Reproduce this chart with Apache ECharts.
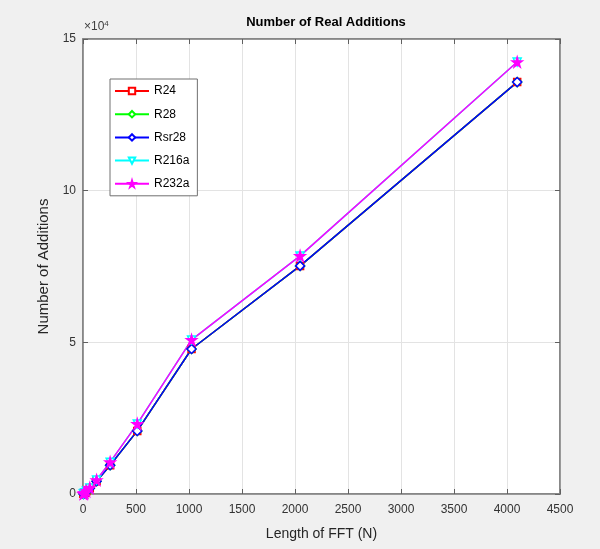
<!DOCTYPE html>
<html lang="en">
<head>
    <meta charset="UTF-8" />
    <title>Number of Real Additions</title>
    <script src="https://cdn.jsdelivr.net/npm/echarts@6/dist/echarts.min.js"></script>
    <style>
        html, body { margin: 0; padding: 0; background: #f0f0f0; }
    </style>
</head>
<body>
    <div id="chart" style="width:600px;height:549px;"></div>
    <script type="text/javascript">
        // FFT lengths (x values)
        var fftN = [4, 8, 16, 32, 64, 128, 256, 512, 1024, 2048, 4096];
        // number of real additions
        var r24 = [50, 150, 380, 900, 1900, 4200, 9500, 20800, 47800, 75200, 135800];
        var r28 = [50, 150, 380, 900, 1900, 4200, 9500, 20800, 47800, 75200, 135800];
        var rsr28 = [50, 150, 380, 900, 1900, 4200, 9500, 20800, 47800, 75200, 135800];
        var r216a = [50, 160, 400, 950, 2000, 4600, 10500, 23100, 50800, 78500, 142400];
        var r232a = [50, 160, 400, 950, 2000, 4600, 10500, 23100, 50800, 78500, 142400];
        var xTicks = [0, 500, 1000, 1500, 2000, 2500, 3000, 3500, 4000, 4500];
        var yTicks = [0, 5, 10, 15]; // x 10^4

        var starPath = 'path://M50,0 L61,35 L98,35 L68,57 L79,91 L50,70 L21,91 L32,57 L2,35 L39,35 Z';

        function pairs(ys) {
            return fftN.map(function (n, i) { return [n, ys[i]]; });
        }

        function lineSeries(name, ys, col, sym, size, filled, rot) {
            return {
                name: name, type: 'line', data: pairs(ys),
                symbol: sym, symbolSize: size, symbolRotate: rot || 0,
                lineStyle: { width: 1.5, color: col },
                itemStyle: { color: filled ? col : '#ffffff', borderColor: col, borderWidth: 1.5 }
            };
        }

        // matlab style ticks, pointing into the box
        function ticks() {
            return { show: true, inside: true, length: 5, lineStyle: { color: '#606060', width: 1 } };
        }
        function boxLine() {
            return { show: true, onZero: false, lineStyle: { color: '#808080', width: 1.5 } };
        }

        var chart = echarts.init(document.getElementById('chart'));
        var tickFont = { color: '#333333', fontSize: 12, fontFamily: 'Liberation Sans' };

        var option = {
            backgroundColor: '#f0f0f0',
            animation: false,
            title: {
                text: 'Number of Real Additions',
                left: 321,
                top: 11,
                textAlign: 'center',
                textStyle: { fontSize: 13, fontWeight: 'bold', color: '#000', fontFamily: 'Liberation Sans' }
            },
            grid: {
                left: 83, right: 40, top: 39, bottom: 55,
                show: true,
                backgroundColor: '#ffffff',
                borderColor: '#808080',
                borderWidth: 1.5
            },
            legend: {
                orient: 'vertical',
                left: 110,
                top: 79,
                itemWidth: 34,
                itemHeight: 8,
                itemGap: 11.2,
                padding: [6, 8, 6, 4],
                backgroundColor: '#ffffff',
                borderColor: '#707070',
                borderWidth: 1,
                textStyle: { fontSize: 12, color: '#000', fontFamily: 'Liberation Sans' },
                data: ['R24', 'R28', 'Rsr28', 'R216a', 'R232a']
            },
            xAxis: [{
                type: 'value',
                min: 0, max: 4500, interval: 500,
                name: 'Length of FFT (N)',
                nameLocation: 'middle',
                nameGap: 33,
                nameTextStyle: { fontSize: 14, color: '#262626', fontFamily: 'Liberation Sans' },
                axisLine: boxLine(),
                axisTick: ticks(),
                axisLabel: Object.assign({}, tickFont, {
                    margin: 10,
                    formatter: function (v) { return String(xTicks[Math.round(v / 500)]); }
                }),
                splitLine: { show: true, lineStyle: { color: '#e3e3e3' } }
            }, {
                type: 'value', position: 'top',
                min: 0, max: 4500, interval: 500,
                axisLine: boxLine(),
                axisTick: ticks(),
                axisLabel: { show: false },
                splitLine: { show: false }
            }],
            yAxis: [{
                type: 'value',
                min: 0, max: 150000, interval: 50000,
                name: 'Number of Additions',
                nameLocation: 'middle',
                nameGap: 28,
                nameTextStyle: { fontSize: 15, color: '#262626', fontFamily: 'Liberation Sans' },
                axisLine: boxLine(),
                axisTick: ticks(),
                axisLabel: Object.assign({}, tickFont, {
                    margin: 7,
                    formatter: function (v) { return String(yTicks[Math.round(v / 50000)]); }
                }),
                splitLine: { show: true, lineStyle: { color: '#e3e3e3' } }
            }, {
                type: 'value', position: 'right',
                min: 0, max: 150000, interval: 50000,
                axisLine: boxLine(),
                axisTick: ticks(),
                axisLabel: { show: false },
                splitLine: { show: false }
            }],
            graphic: [{
                type: 'text',
                left: 84, top: 20,
                style: {
                    text: '×10{s|4}',
                    fill: '#404040',
                    font: '12px "Liberation Sans"',
                    rich: { s: { fontSize: 8, verticalAlign: 'top', padding: [0, 0, 6, 0], fill: '#404040' } }
                }
            }],
            series: [
                lineSeries('R24', r24, '#ff0000', 'rect', 7, false),
                lineSeries('R28', r28, '#00ff00', 'diamond', 9, false),
                lineSeries('Rsr28', rsr28, '#0000ff', 'diamond', 9, false),
                lineSeries('R216a', r216a, '#00ffff', 'triangle', 8, false, 180),
                lineSeries('R232a', r232a, '#ff00ff', starPath, 10, true)
            ]
        };

        chart.setOption(option, true);
    </script>
</body>
</html>
